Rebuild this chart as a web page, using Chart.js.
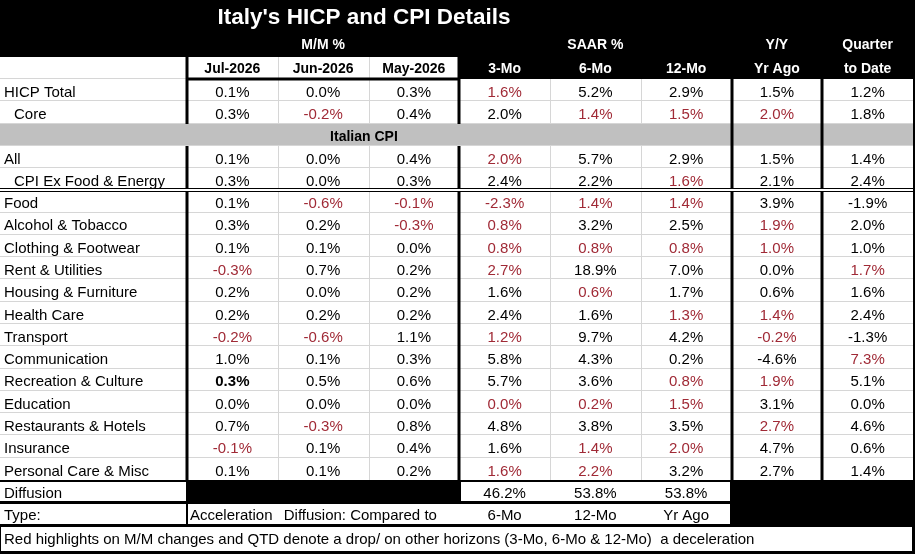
<!DOCTYPE html>
<html>
<head>
<meta charset="utf-8">
<title>Italy's HICP and CPI Details</title>
<script src="https://cdn.jsdelivr.net/npm/chart.js@4.4.1/dist/chart.umd.min.js"></script>
<style>
  html, body { margin: 0; padding: 0; background: #000; }
  canvas { display: block; }
</style>
</head>
<body>
<canvas id="hicpTable" width="915" height="554"></canvas>
<script>
// table text and values
const title = "Italy's HICP and CPI Details";
const columns = ["Jul-2026", "Jun-2026", "May-2026", "3-Mo", "6-Mo", "12-Mo", "Yr Ago", "to Date"];
const groupHeaders = ["", "M/M %", "", "", "SAAR %", "", "Y/Y", "Quarter"];
const categories = [
  "HICP Total", "Core", "Italian CPI", "All", "CPI Ex Food & Energy",
  "Food", "Alcohol & Tobacco", "Clothing & Footwear", "Rent & Utilities",
  "Housing & Furniture", "Health Care", "Transport", "Communication",
  "Recreation & Culture", "Education", "Restaurants & Hotels", "Insurance",
  "Personal Care & Misc"
];
const subItems = ["Core", "CPI Ex Food & Energy"];
const sectionRows = ["Italian CPI"];

const jul  = [0.1, 0.3, null, 0.1, 0.3, 0.1, 0.3, 0.1, -0.3, 0.2, 0.2, -0.2, 1.0, 0.3, 0.0, 0.7, -0.1, 0.1];
const jun  = [0.0, -0.2, null, 0.0, 0.0, -0.6, 0.2, 0.1, 0.7, 0.0, 0.2, -0.6, 0.1, 0.5, 0.0, -0.3, 0.1, 0.1];
const may  = [0.3, 0.4, null, 0.4, 0.3, -0.1, -0.3, 0.0, 0.2, 0.2, 0.2, 1.1, 0.3, 0.6, 0.0, 0.8, 0.4, 0.2];
const mo3  = [1.6, 2.0, null, 2.0, 2.4, -2.3, 0.8, 0.8, 2.7, 1.6, 2.4, 1.2, 5.8, 5.7, 0.0, 4.8, 1.6, 1.6];
const mo6  = [5.2, 1.4, null, 5.7, 2.2, 1.4, 3.2, 0.8, 18.9, 0.6, 1.6, 9.7, 4.3, 3.6, 0.2, 3.8, 1.4, 2.2];
const mo12 = [2.9, 1.5, null, 2.9, 1.6, 1.4, 2.5, 0.8, 7.0, 1.7, 1.3, 4.2, 0.2, 0.8, 1.5, 3.5, 2.0, 3.2];
const yrAgo = [1.5, 2.0, null, 1.5, 2.1, 3.9, 1.9, 1.0, 0.0, 0.6, 1.4, -0.2, -4.6, 1.9, 3.1, 2.7, 4.7, 2.7];
const qtd  = [1.2, 1.8, null, 1.4, 2.4, -1.9, 2.0, 1.0, 1.7, 1.6, 2.4, -1.3, 7.3, 5.1, 0.0, 4.6, 0.6, 1.4];
const series = [jul, jun, may, mo3, mo6, mo12, yrAgo, qtd];

// cells flagged as a drop / deceleration in the source
const drops = [
  ["Rent & Utilities", "Transport", "Insurance"],
  ["Core", "Food", "Transport", "Restaurants & Hotels"],
  ["Food", "Alcohol & Tobacco"],
  ["HICP Total", "All", "Food", "Alcohol & Tobacco", "Clothing & Footwear", "Rent & Utilities", "Transport", "Education", "Personal Care & Misc"],
  ["Core", "Food", "Clothing & Footwear", "Housing & Furniture", "Education", "Insurance", "Personal Care & Misc"],
  ["Core", "CPI Ex Food & Energy", "Food", "Clothing & Footwear", "Health Care", "Recreation & Culture", "Education", "Insurance"],
  ["Core", "Alcohol & Tobacco", "Clothing & Footwear", "Health Care", "Transport", "Recreation & Culture", "Restaurants & Hotels"],
  ["Rent & Utilities", "Communication"]
];
const emphasis = [["Recreation & Culture", 0]];

const diffusion = [46.2, 53.8, 53.8];
const diffusionCols = [3, 4, 5];
const typeNotes = ["Acceleration", "Diffusion: Compared to"];
const typeLabels = ["6-Mo", "12-Mo", "Yr Ago"];
const footnote = "Red highlights on M/M changes and QTD denote a drop/ on other horizons (3-Mo, 6-Mo & 12-Mo)  a deceleration";

// row layout: 2 header rows, then categories, then diffusion, type, footnote
const headerRows = 2;
const diffRow = headerRows + categories.length;
const typeRow = diffRow + 1;
const noteRow = typeRow + 1;

const FONT = "'Liberation Sans', Arial, sans-serif";
const RED = "#a02a36";
const GRID = "#d6d6d6";
const BAND = "#c0c0c0";
const TXT_DY = 2.5; // sheet text sits a bit low in its cells

const pct = (v) => v.toFixed(1) + "%";

const datasets = series.map((vals, c) => ({
  label: columns[c],
  data: categories
    .map((name, i) => ({ x: c, y: i + headerRows, v: vals[i], name: name }))
    .filter((d) => d.v !== null),
  pointRadius: 0,
  pointHoverRadius: 0,
  showLine: false,
}));

const tablePlugin = {
  id: "tablePlugin",
  beforeDatasetsDraw(chart) {
    const { ctx, scales: { x, y } } = chart;
    const colL = (i) => Math.round(x.getPixelForValue(i - 0.5));
    const colR = (i) => Math.round(x.getPixelForValue(i + 0.5));
    const rowT = (k) => Math.round(y.getPixelForValue(k - 0.5));
    const rowB = (k) => k === noteRow ? Math.round(y.bottom) : Math.round(y.getPixelForValue(k + 0.5));
    const right = colR(columns.length - 1);
    const isBand = (k) => sectionRows.includes(categories[k - headerRows]);

    ctx.save();
    ctx.fillStyle = "#000";
    ctx.fillRect(0, 0, chart.width, chart.height);

    // header row with the month labels
    ctx.fillStyle = "#fff";
    ctx.fillRect(0, rowT(1), colL(3), rowB(1) - rowT(1));

    // body rows
    for (let k = headerRows; k < diffRow; k++) {
      ctx.fillStyle = isBand(k) ? BAND : "#fff";
      ctx.fillRect(0, rowT(k), right, rowB(k) - rowT(k));
    }

    // thin grid
    ctx.strokeStyle = GRID;
    ctx.lineWidth = 1;
    ctx.beginPath();
    for (let k = 1; k < diffRow - 1; k++) {
      const yy = rowB(k) - 0.5;
      const xEnd = k === 1 ? colL(3) : right;
      ctx.moveTo(0, yy);
      ctx.lineTo(xEnd, yy);
    }
    for (let k = 1; k < diffRow; k++) {
      if (k >= headerRows && isBand(k)) continue;
      for (let i = 1; i < columns.length; i++) {
        if (k === 1 && i >= 3) continue;
        const xx = colL(i) + 0.5;
        ctx.moveTo(xx, rowT(k));
        ctx.lineTo(xx, rowB(k));
      }
    }
    ctx.stroke();

    // heavy separators
    ctx.strokeStyle = "#000";
    ctx.lineWidth = 3;
    ctx.beginPath();
    for (let k = 1; k < diffRow; k++) {
      const band = k >= headerRows && isBand(k);
      if (!band) {
        ctx.moveTo(colL(0), rowT(k));
        ctx.lineTo(colL(0), rowB(k));
        ctx.moveTo(colL(3), rowT(k));
        ctx.lineTo(colL(3), rowB(k));
      }
      if (k >= headerRows) {
        ctx.moveTo(colL(6), rowT(k));
        ctx.lineTo(colL(6), rowB(k));
        ctx.moveTo(colL(7), rowT(k));
        ctx.lineTo(colL(7), rowB(k));
      }
    }
    ctx.moveTo(colL(0), rowB(1));
    ctx.lineTo(colL(3), rowB(1));
    ctx.stroke();

    // double rule under CPI Ex Food & Energy
    const dbl = rowB(headerRows + categories.indexOf("CPI Ex Food & Energy"));
    ctx.fillStyle = "#000";
    ctx.fillRect(0, dbl - 2, right, 1);
    ctx.fillRect(0, dbl + 1, right, 1);
    ctx.fillStyle = "#fff";
    ctx.fillRect(0, dbl - 1, right, 2);

    // diffusion / type / footnote rows
    ctx.fillStyle = "#fff";
    const box = (x0, x1, k) => ctx.fillRect(x0, rowT(k) + 2, x1 - x0, rowB(k) - rowT(k) - 3);
    box(0, colL(0) - 1, diffRow);
    box(colL(3) + 2, colR(5) - 2, diffRow);
    box(0, colL(0) - 1, typeRow);
    box(colL(0) + 1, colR(5) - 2, typeRow);
    box(1, right - 1, noteRow);
    ctx.restore();
  },

  afterDatasetsDraw(chart) {
    const { ctx, scales: { x, y } } = chart;
    const colL = (i) => x.getPixelForValue(i - 0.5);
    const rowY = (k) => y.getPixelForValue(k) + TXT_DY;
    ctx.save();
    ctx.textBaseline = "middle";

    // title
    ctx.fillStyle = "#fff";
    ctx.textAlign = "center";
    ctx.font = "bold 22.5px " + FONT;
    ctx.fillText(title, x.getPixelForValue(1.45), 18);

    // headers
    ctx.font = "bold 14px " + FONT;
    groupHeaders.forEach((h, i) => {
      if (h) ctx.fillText(h, x.getPixelForValue(i), y.getPixelForValue(0));
    });
    columns.forEach((h, i) => {
      ctx.fillStyle = i < 3 ? "#000" : "#fff";
      ctx.fillText(h, x.getPixelForValue(i), rowY(1) - 1);
    });

    // row labels
    ctx.fillStyle = "#000";
    categories.forEach((name, i) => {
      const yy = rowY(i + headerRows);
      if (sectionRows.includes(name)) {
        ctx.font = "bold 14px " + FONT;
        ctx.textAlign = "center";
        ctx.fillText(name, x.getPixelForValue(1.45), yy);
        return;
      }
      ctx.font = "15px " + FONT;
      ctx.textAlign = "left";
      ctx.fillText(name, subItems.includes(name) ? 14 : 4, yy);
    });

    // values, placed at the library's point positions
    ctx.textAlign = "center";
    chart.data.datasets.forEach((ds, c) => {
      const meta = chart.getDatasetMeta(c);
      meta.data.forEach((pt, j) => {
        const d = ds.data[j];
        const bold = emphasis.some((e) => e[0] === d.name && e[1] === c);
        ctx.font = (bold ? "bold " : "") + "15px " + FONT;
        ctx.fillStyle = drops[c].includes(d.name) ? RED : "#000";
        ctx.fillText(pct(d.v), pt.x, pt.y + TXT_DY);
      });
    });

    // diffusion
    ctx.fillStyle = "#000";
    ctx.font = "15px " + FONT;
    ctx.textAlign = "left";
    ctx.fillText("Diffusion", 4, rowY(diffRow));
    ctx.fillText("Type:", 4, rowY(typeRow));
    ctx.textAlign = "center";
    diffusion.forEach((v, i) => {
      ctx.fillText(pct(v), x.getPixelForValue(diffusionCols[i]), rowY(diffRow));
    });
    typeLabels.forEach((t, i) => {
      ctx.fillText(t, x.getPixelForValue(diffusionCols[i]), rowY(typeRow));
    });
    ctx.textAlign = "left";
    ctx.fillText(typeNotes[0], colL(0) + 3, rowY(typeRow));
    ctx.fillText(typeNotes[1], colL(1) + 6, rowY(typeRow));
    // footnote row runs down to the bottom of the plot area
    const noteMid = (y.getPixelForValue(noteRow - 0.5) + y.bottom) / 2;
    ctx.fillText(footnote, 4, noteMid + 1.5);
    ctx.restore();
  },
};

new Chart(document.getElementById("hicpTable"), {
  type: "scatter",
  data: { datasets: datasets },
  options: {
    responsive: false,
    animation: false,
    devicePixelRatio: 1,
    events: [],
    layout: { padding: { left: 187, right: 2, top: 34.4, bottom: 2 } },
    scales: {
      x: { type: "linear", min: -0.5, max: columns.length - 0.5, display: false },
      y: { type: "linear", min: -0.5, max: noteRow + 0.73, reverse: true, display: false },
    },
    plugins: { legend: { display: false }, tooltip: { enabled: false } },
  },
  plugins: [tablePlugin],
});
</script>
</body>
</html>
